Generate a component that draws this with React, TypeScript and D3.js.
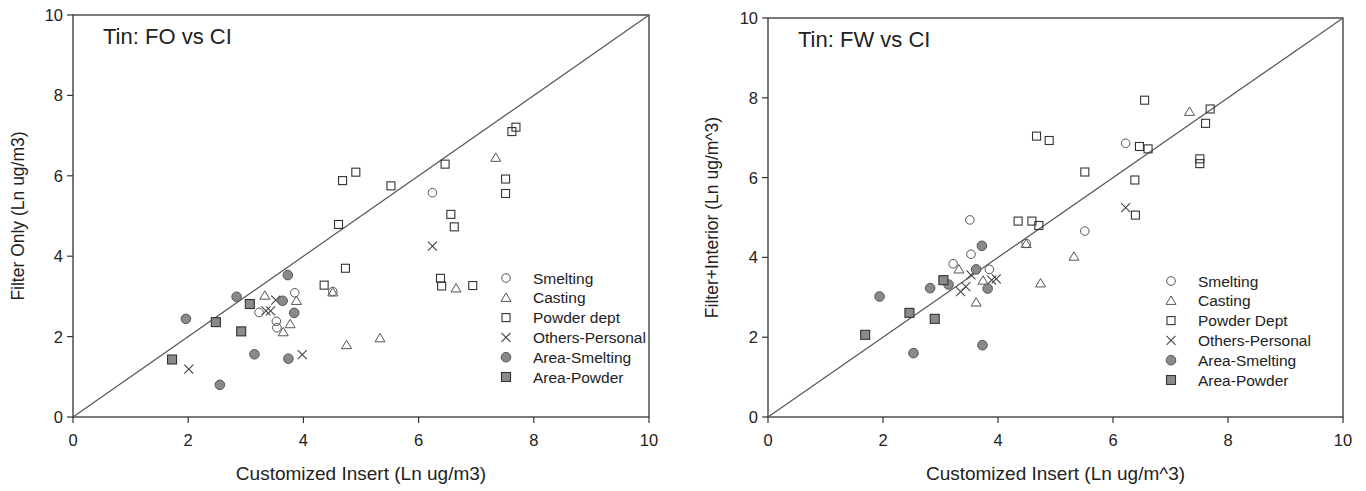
import React from "react";
import * as d3 from "d3";

type Pt = [number, number];

// ---------- Left panel: Filter Only vs Customized Insert ----------
const foSmelting: Pt[] = [[3.23, 2.6], [3.85, 3.09], [3.53, 2.38], [3.54, 2.22], [4.51, 3.12], [6.24, 5.58]];
const foCasting: Pt[] = [[3.33, 3.02], [3.88, 2.89], [3.77, 2.31], [3.65, 2.11], [4.51, 3.1], [4.75, 1.79], [5.33, 1.96], [6.65, 3.2], [7.34, 6.45]];
const foPowder: Pt[] = [[4.73, 3.7], [4.36, 3.28], [4.61, 4.79], [4.68, 5.88], [4.91, 6.09], [5.52, 5.75], [6.46, 6.29], [6.56, 5.04], [6.62, 4.73], [6.38, 3.45], [6.4, 3.26], [6.94, 3.27], [7.51, 5.92], [7.51, 5.56], [7.62, 7.1], [7.69, 7.21]];
const foOthers: Pt[] = [[3.52, 2.91], [3.35, 2.64], [3.43, 2.64], [3.98, 1.55], [2.01, 1.19], [6.24, 4.25]];
const foAreaSmelting: Pt[] = [[3.73, 3.53], [2.84, 2.99], [3.64, 2.89], [3.84, 2.59], [1.96, 2.44], [3.15, 1.56], [3.74, 1.45], [2.55, 0.8]];
const foAreaPowder: Pt[] = [[3.07, 2.81], [2.48, 2.36], [2.92, 2.13], [1.72, 1.43]];

// ---------- Right panel: Filter+Interior vs Customized Insert ----------
const fwSmelting: Pt[] = [[3.22, 3.84], [3.53, 4.08], [3.85, 3.7], [3.51, 4.94], [4.49, 4.35], [5.51, 4.66], [6.22, 6.86]];
const fwCasting: Pt[] = [[3.32, 3.7], [3.74, 3.42], [3.62, 2.87], [4.49, 4.34], [5.32, 4.02], [4.74, 3.35], [7.33, 7.65]];
const fwPowder: Pt[] = [[4.35, 4.91], [4.59, 4.91], [4.71, 4.8], [4.67, 7.04], [4.89, 6.93], [5.51, 6.14], [6.55, 7.94], [6.46, 6.78], [6.61, 6.72], [6.38, 5.94], [6.39, 5.06], [7.61, 7.36], [7.69, 7.72], [7.51, 6.47], [7.51, 6.35]];
const fwOthers: Pt[] = [[3.35, 3.14], [3.44, 3.27], [3.53, 3.56], [3.89, 3.43], [3.97, 3.46], [6.22, 5.25]];
const fwAreaSmelting: Pt[] = [[3.72, 4.29], [3.62, 3.7], [2.82, 3.23], [3.14, 3.32], [3.82, 3.22], [1.94, 3.02], [2.53, 1.6], [3.73, 1.8]];
const fwAreaPowder: Pt[] = [[3.05, 3.43], [2.46, 2.61], [2.9, 2.46], [1.69, 2.06]];

const tickValues = [0, 2, 4, 6, 8, 10];
const leftLegend = ["Smelting", "Casting", "Powder dept", "Others-Personal", "Area-Smelting", "Area-Powder"];
const rightLegend = ["Smelting", "Casting", "Powder Dept", "Others-Personal", "Area-Smelting", "Area-Powder"];
const markerKinds = ["circle", "triangle", "square", "cross", "fcircle", "fsquare"];

const FONT = "'Liberation Sans', Arial, Helvetica, sans-serif";
const INK = "#333";
const FILL = "#8a8a8a";

function Marker({ kind, x, y }: { kind: string; x: number; y: number }) {
  const s = 4;
  switch (kind) {
    case "circle":
      return <circle cx={x} cy={y} r={4.3} fill="none" stroke="#555" strokeWidth={1} />;
    case "fcircle":
      return <circle cx={x} cy={y} r={4.8} fill={FILL} stroke="#555" strokeWidth={1} />;
    case "triangle":
      return (
        <path
          d={`M${x},${y - 4.8}L${x + 5},${y + 3.6}L${x - 5},${y + 3.6}Z`}
          fill="none"
          stroke="#555"
          strokeWidth={1}
        />
      );
    case "square":
      return <rect x={x - s} y={y - s} width={2 * s} height={2 * s} fill="none" stroke="#333" strokeWidth={1.1} />;
    case "fsquare":
      return <rect x={x - 4.5} y={y - 4.5} width={9} height={9} fill={FILL} stroke="#333" strokeWidth={1.1} />;
    case "cross":
      return (
        <path
          d={`M${x - 4.5},${y - 4.5}L${x + 4.5},${y + 4.5}M${x - 4.5},${y + 4.5}L${x + 4.5},${y - 4.5}`}
          stroke="#444"
          strokeWidth={1.1}
        />
      );
  }
  return null;
}

function Panel(props: {
  x0: number; x1: number; y0: number; y1: number;
  title: string; xTitle: string; yTitle: string;
  series: Pt[][]; legend: string[]; legendX: number; legendY: number; yTitleX: number;
}) {
  const { x0, x1, y0, y1, series, legend } = props;
  const xs = d3.scaleLinear().domain([0, 10]).range([x0, x1]);
  const ys = d3.scaleLinear().domain([0, 10]).range([y0, y1]);
  const cx = (x0 + x1) / 2;
  const cy = (y0 + y1) / 2;
  return (
    <g fontFamily={FONT}>
      {/* frame */}
      <rect x={x0} y={y1} width={x1 - x0} height={y0 - y1} fill="none" stroke={INK} strokeWidth={1.3} />
      {/* diagonal */}
      <line x1={xs(0)} y1={ys(0)} x2={xs(10)} y2={ys(10)} stroke="#555" strokeWidth={1.2} />
      {/* x ticks */}
      {tickValues.map((t) => (
        <g key={"x" + t}>
          <line x1={xs(t)} x2={xs(t)} y1={y0} y2={y0 + 6} stroke={INK} strokeWidth={1.2} />
          <text x={xs(t)} y={y0 + 29} textAnchor="middle" fontSize={16.5} fill="#222">{t}</text>
        </g>
      ))}
      {tickValues.map((t) => (
        <g key={"y" + t}>
          <line x1={x0 - 6} x2={x0} y1={ys(t)} y2={ys(t)} stroke={INK} strokeWidth={1.2} />
          <text x={x0 - 10} y={ys(t) + 6} textAnchor="end" fontSize={16.5} fill="#222">{t}</text>
        </g>
      ))}
      <text x={cx} y={y0 + 63} textAnchor="middle" fontSize={19} fill="#222">{props.xTitle}</text>
      <text
        transform={`translate(${props.yTitleX},${cy}) rotate(-90)`}
        textAnchor="middle"
        fontSize={17.5}
        fill="#222"
      >
        {props.yTitle}
      </text>
      <text x={x0 + 30} y={y1 + 29} fontSize={22} fill="#222">{props.title}</text>
      {/* points */}
      {series.map((pts, si) => (
        <g key={"s" + si}>
          {pts.map((p, i) => (
            <Marker key={i} kind={markerKinds[si]} x={xs(p[0])} y={ys(p[1])} />
          ))}
        </g>
      ))}
      {/* legend */}
      {legend.map((name, i) => (
        <g key={"l" + i}>
          <Marker kind={markerKinds[i]} x={props.legendX} y={props.legendY + i * 19.8} />
          <text x={props.legendX + 27} y={props.legendY + i * 19.8 + 5.5} fontSize={15.5} fill="#222">{name}</text>
        </g>
      ))}
    </g>
  );
}

export default function App() {
  return (
    <svg
      width={1366}
      height={491}
      style={{ position: "absolute", left: 0, top: 0, background: "#fff" }}
    >
      <rect width={1366} height={491} fill="#fff" />
      <Panel
        x0={73} x1={649} y0={417} y1={15}
        title="Tin: FO vs CI"
        xTitle="Customized Insert (Ln ug/m3)"
        yTitle="Filter Only (Ln ug/m3)"
        series={[foSmelting, foCasting, foPowder, foOthers, foAreaSmelting, foAreaPowder]}
        legend={leftLegend}
        legendX={506} legendY={278}
        yTitleX={24}
      />
      <Panel
        x0={768} x1={1343} y0={417} y1={18}
        title="Tin: FW vs CI"
        xTitle="Customized Insert (Ln ug/m^3)"
        yTitle="Filter+Interior (Ln ug/m^3)"
        series={[fwSmelting, fwCasting, fwPowder, fwOthers, fwAreaSmelting, fwAreaPowder]}
        legend={rightLegend}
        legendX={1171} legendY={281}
        yTitleX={718}
      />
    </svg>
  );
}
